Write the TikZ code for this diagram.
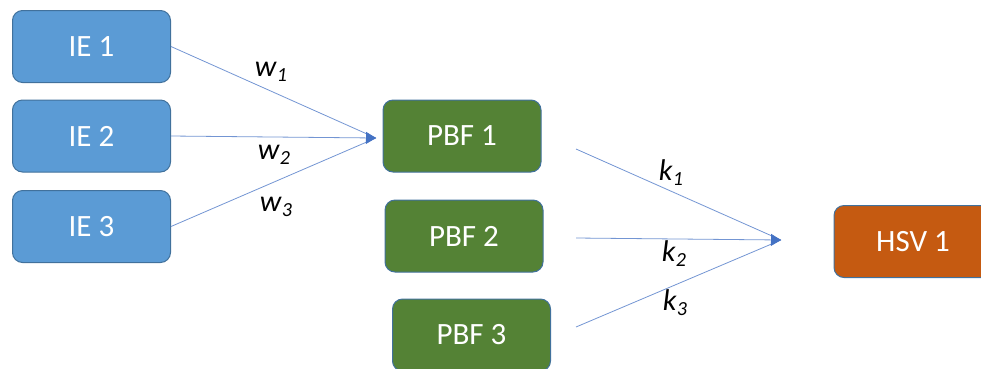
\documentclass[tikz,border=0pt]{standalone}
\usepackage{fontspec}
\setmainfont{Carlito}
\usetikzlibrary{arrows.meta}
\definecolor{ieblue}{HTML}{5B9BD5}
\definecolor{pbfgreen}{HTML}{548235}
\definecolor{hsvorange}{HTML}{C55A11}
\definecolor{edgeblue}{HTML}{41719C}
\definecolor{linkblue}{HTML}{4472C4}
\newcommand{\wlab}[2]{\textit{#1}\raisebox{-0.35ex}{\fontsize{20}{20}\selectfont\itshape #2}}
\begin{document}
\begin{tikzpicture}[x=1pt,y=-1pt,
  box/.style={draw=edgeblue, line width=1pt, rounded corners=10pt,
    minimum width=158pt, minimum height=72pt, text=white,
    font=\fontsize{31}{31}\selectfont, inner sep=0pt},
  iebox/.style={box, fill=ieblue},
  pbfbox/.style={box, fill=pbfgreen},
  hsvbox/.style={box, fill=hsvorange},
  link/.style={draw=linkblue!75, line width=0.8pt},
  tiplink/.style={link, -{Triangle[length=10pt,width=12pt,fill=linkblue,color=linkblue]}},
  lab/.style={font=\fontsize{30}{30}\selectfont, text=black, inner sep=0pt}]
\useasboundingbox (0,0) rectangle (981,368);
\clip (0,0) rectangle (981,368);
\node[iebox] (ie1) at (91.5,46.5) {IE 1};
\node[iebox] (ie2) at (91.5,136) {IE 2};
\node[iebox] (ie3) at (91.5,226.5) {IE 3};
\node[pbfbox] (pbf1) at (462,136) {PBF 1};
\node[pbfbox] (pbf2) at (464,236) {PBF 2};
\node[pbfbox] (pbf3) at (471.5,335) {PBF 3};
\node[hsvbox] (hsv1) at (913,241.5) {HSV 1};
\coordinate (t1) at (376,138);
\coordinate (t2) at (781,240);
\coordinate (s1) at (576,149);
\coordinate (s2) at (576,238);
\coordinate (s3) at (576,327);
\draw[link] (ie1.east) -- (t1);
\draw[link] (ie3.east) -- (t1);
\draw[tiplink] (ie2.east) -- (t1);
\draw[link] (s1) -- (t2);
\draw[link] (s3) -- (t2);
\draw[tiplink] (s2) -- (t2);
\node[lab] (w1) at (271,72) {\wlab{w}{1}};
\node[lab] (w2) at (274,155) {\wlab{w}{2}};
\node[lab] (w3) at (276,207) {\wlab{w}{3}};
\node[lab] (k1) at (671,173) {\wlab{k}{1}};
\node[lab] (k2) at (674,254) {\wlab{k}{2}};
\node[lab] (k3) at (675,303) {\wlab{k}{3}};
\end{tikzpicture}
\end{document}
